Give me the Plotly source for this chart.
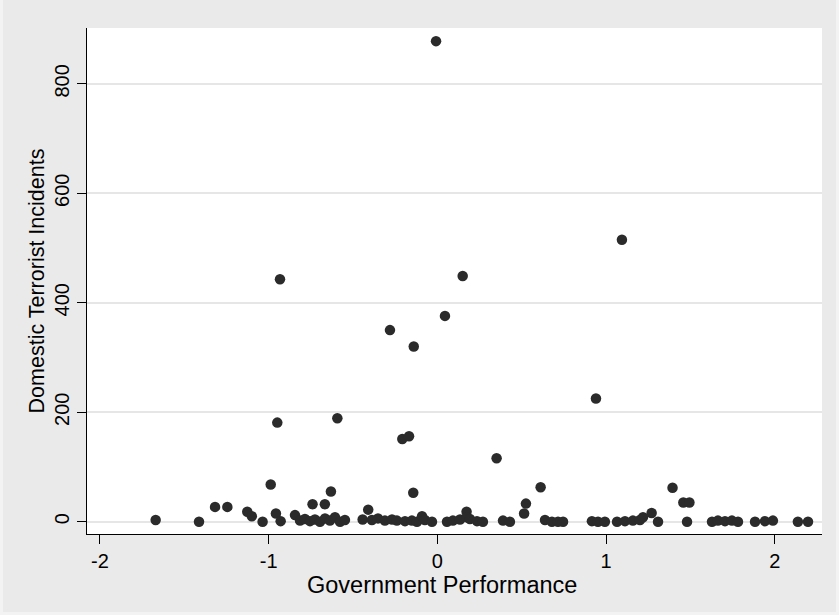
import plotly.graph_objects as go

# Government Performance (x) and Domestic Terrorist Incidents (y)
gov_perf = [
    -0.008, 1.094, -0.933, 0.150, 0.045, -0.281, -0.140, 0.940, -0.949, -0.593,
    -0.208, -0.168, 0.351, -0.988, 0.612, 1.394, -0.631, -0.143, 0.525, 1.458,
    1.494, -0.740, -0.667, -1.318, -1.245, -0.410, 0.173, -1.127, 1.270, 0.514,
    -0.957,
    -1.670, -1.413, -1.100, -1.036, -0.929, -0.844, -0.814,
    -0.785, -0.755, -0.726, -0.696, -0.666, -0.637, -0.607, -0.577, -0.548,
    -0.443, -0.388, -0.352, -0.311, -0.269, -0.240, -0.192, -0.151, -0.121,
    -0.091, -0.074, -0.032, 0.057, 0.092, 0.134, 0.175, 0.193, 0.235, 0.270,
    0.389, 0.430, 0.638, 0.679, 0.715, 0.745, 0.916, 0.952, 0.993, 1.065,
    1.112, 1.159, 1.201, 1.219, 1.308, 1.480, 1.628, 1.663, 1.705, 1.746,
    1.782, 1.883, 1.942, 1.989, 2.137, 2.197,
]
incidents = [
    878, 515, 443, 449, 376, 350, 320, 225, 181, 189,
    151, 156, 116, 68, 63, 62, 55, 53, 33, 35,
    35, 32, 32, 27, 27, 22, 18, 18, 16, 15,
    15,
    3, 0, 10, 0, 1, 12, 2,
    5, 1, 4, 0, 6, 2, 8, 0, 3,
    4, 3, 6, 2, 4, 2, 1, 2, 0,
    10, 3, 0, 0, 2, 4, 8, 5, 1, 0,
    2, 0, 3, 0, 0, 0, 1, 0, 0, 0,
    1, 2, 3, 8, 0, 0, 0, 2, 1, 2,
    0, 0, 1, 2, 0, 0,
]

x_ticks = [-2, -1, 0, 1, 2]
y_ticks = [0, 200, 400, 600, 800]
x_title = "Government Performance"
y_title = "Domestic Terrorist Incidents"

font_family = "Liberation Sans, Arial, sans-serif"

fig = go.Figure(
    go.Scatter(
        x=gov_perf,
        y=incidents,
        mode="markers",
        marker=dict(size=10.5, color="#2b2b2b", line=dict(width=0)),
        showlegend=False,
    )
)

fig.update_layout(
    width=839,
    height=615,
    margin=dict(l=87, r=17, t=28, b=81),
    paper_bgcolor="#eaeaea",
    plot_bgcolor="#ffffff",
    font=dict(family=font_family, size=20, color="#000000"),
    shapes=[
        dict(
            type="rect", xref="paper", yref="paper",
            x0=-87 / 735 + 0.002, x1=(839 - 87) / 735 - 0.002,
            y0=-81 / 506 + 0.003, y1=(615 - 28) / 506 - 0.003,
            line=dict(color="#f3f3f3", width=3),
            fillcolor="rgba(0,0,0,0)",
            layer="below",
        )
    ],
    annotations=[
        dict(
            text=x_title, xref="paper", yref="paper",
            x=(442 - 87) / 735, y=(534 - 585) / 506,
            xanchor="center", yanchor="middle", showarrow=False,
            font=dict(family=font_family, size=23.5, color="#000000"),
        )
    ],
)

fig.update_xaxes(
    range=[-2.077, 2.28],
    tickvals=x_ticks,
    ticktext=[str(v) for v in x_ticks],
    ticks="outside",
    ticklen=9,
    tickwidth=1,
    tickcolor="#000000",
    showline=True,
    linecolor="#000000",
    linewidth=1,
    showgrid=False,
    zeroline=False,
)

fig.update_yaxes(
    range=[-22.5, 902],
    tickvals=y_ticks,
    ticktext=[str(v) for v in y_ticks],
    tickangle=-90,
    ticks="outside",
    ticklen=9,
    tickwidth=1,
    tickcolor="#000000",
    showline=True,
    linecolor="#000000",
    linewidth=1,
    showgrid=True,
    gridcolor="#e6e6e6",
    gridwidth=1.5,
    zeroline=False,
    title=dict(text=y_title, standoff=0, font=dict(size=21.5)),
)

fig.write_html("out.html")
